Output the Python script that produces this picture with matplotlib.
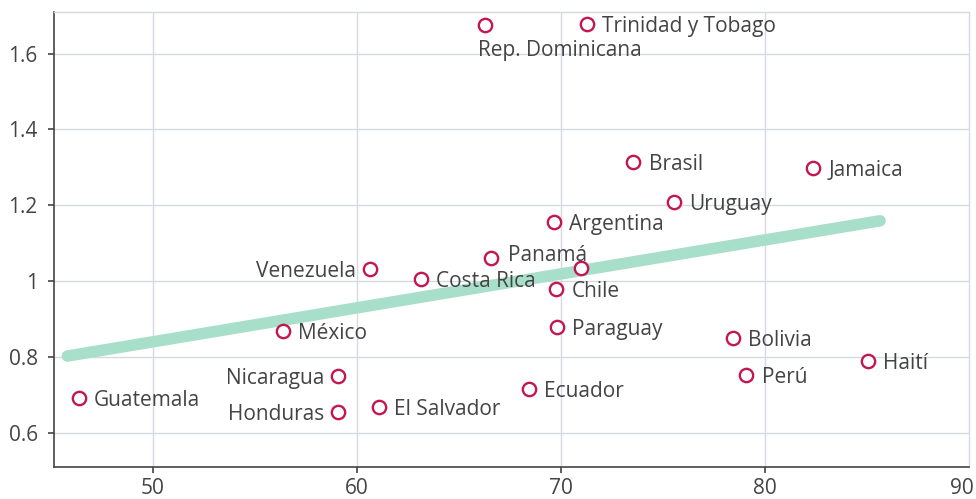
import matplotlib
matplotlib.use("Agg")
import matplotlib.pyplot as plt

plt.rcParams["font.family"] = ["Open Sans", "DejaVu Sans"]

# --- data ---
countries = ["Guatemala", "México", "Nicaragua", "Honduras", "Venezuela", "Costa Rica",
             "El Salvador", "Panamá", "Rep. Dominicana", "Ecuador", "Argentina", "Chile",
             "Paraguay", "", "Trinidad y Tobago", "Brasil", "Uruguay", "Bolivia", "Perú",
             "Jamaica", "Haití"]
x_vals = [46.39, 56.38, 59.10, 59.10, 60.64, 63.13,
          61.07, 66.58, 66.28, 68.42, 69.64, 69.76,
          69.81, 71.00, 71.27, 73.55, 75.54, 78.43, 79.08,
          82.37, 85.02]
y_vals = [0.692, 0.869, 0.750, 0.654, 1.032, 1.005,
          0.667, 1.060, 1.676, 0.715, 1.157, 0.979,
          0.879, 1.035, 1.678, 1.313, 1.208, 0.849, 0.752,
          1.299, 0.790]
trend_x = [45.83, 85.63]
trend_y = [0.802, 1.159]

x_ticks = [50, 60, 70, 80]
x_last_label = "90"
y_ticks = [0.6, 0.8, 1.0, 1.2, 1.4, 1.6]
y_tick_labels = ["0.6", "0.8", "1", "1.2", "1.4", "1.6"]

# label placement (offset in points, alignment); default is to the right
placement = {
    "Venezuela": ((-10, 0), "right"),
    "Nicaragua": ((-10, 0), "right"),
    "Honduras": ((-10, 0), "right"),
    "Rep. Dominicana": ((-5, -16.6), "left"),
    "Panamá": ((12, 4), "left"),
}

MARK = "#c4164f"
LINE = "#a8dfcb"
TXT = "#444444"
GRID = "#d6d9e2"
FS = 15

fig = plt.figure(figsize=(9.76, 4.99), dpi=100)
ax = fig.add_axes([54.3 / 976, 32.3 / 499, (969.3 - 54.3) / 976, (466.7 - 12) / 499])

ax.plot(trend_x, trend_y, color=LINE, lw=8.3, solid_capstyle="round", zorder=2)
ax.plot(x_vals, y_vals, "o", ms=9.6, mfc="white", mec=MARK, mew=1.7, zorder=3)

for name, xv, yv in zip(countries, x_vals, y_vals):
    if not name:
        continue
    off, ha = placement.get(name, ((11, 0), "left"))
    ax.annotate(name, (xv, yv), xytext=off, textcoords="offset points",
                ha=ha, va="center_baseline", fontsize=FS, color=TXT, zorder=4)

ax.set_xlim(45.19, 90)
ax.set_ylim(0.510, 1.71)
ax.set_xticks(x_ticks)
ax.set_yticks(y_ticks)
ax.set_yticklabels(y_tick_labels)
ax.grid(True, color=GRID, lw=1)
ax.set_axisbelow(True)
ax.tick_params(labelsize=FS, labelcolor=TXT, color="#444444", length=4, width=1.2)
ax.tick_params(axis="x", pad=4)
ax.tick_params(axis="y", pad=8)
for side in ("left", "bottom"):
    ax.spines[side].set_color("#444444")
    ax.spines[side].set_linewidth(1.2)
for side in ("top", "right"):
    ax.spines[side].set_color(GRID)
    ax.spines[side].set_linewidth(1)

# the last x label sits inside the right edge, without a tick mark
ax.annotate(x_last_label, xy=(1, 0), xycoords="axes fraction", xytext=(3, -8),
            textcoords="offset points", ha="right", va="top", fontsize=FS, color=TXT)

fig.savefig("out.png", dpi=100)
